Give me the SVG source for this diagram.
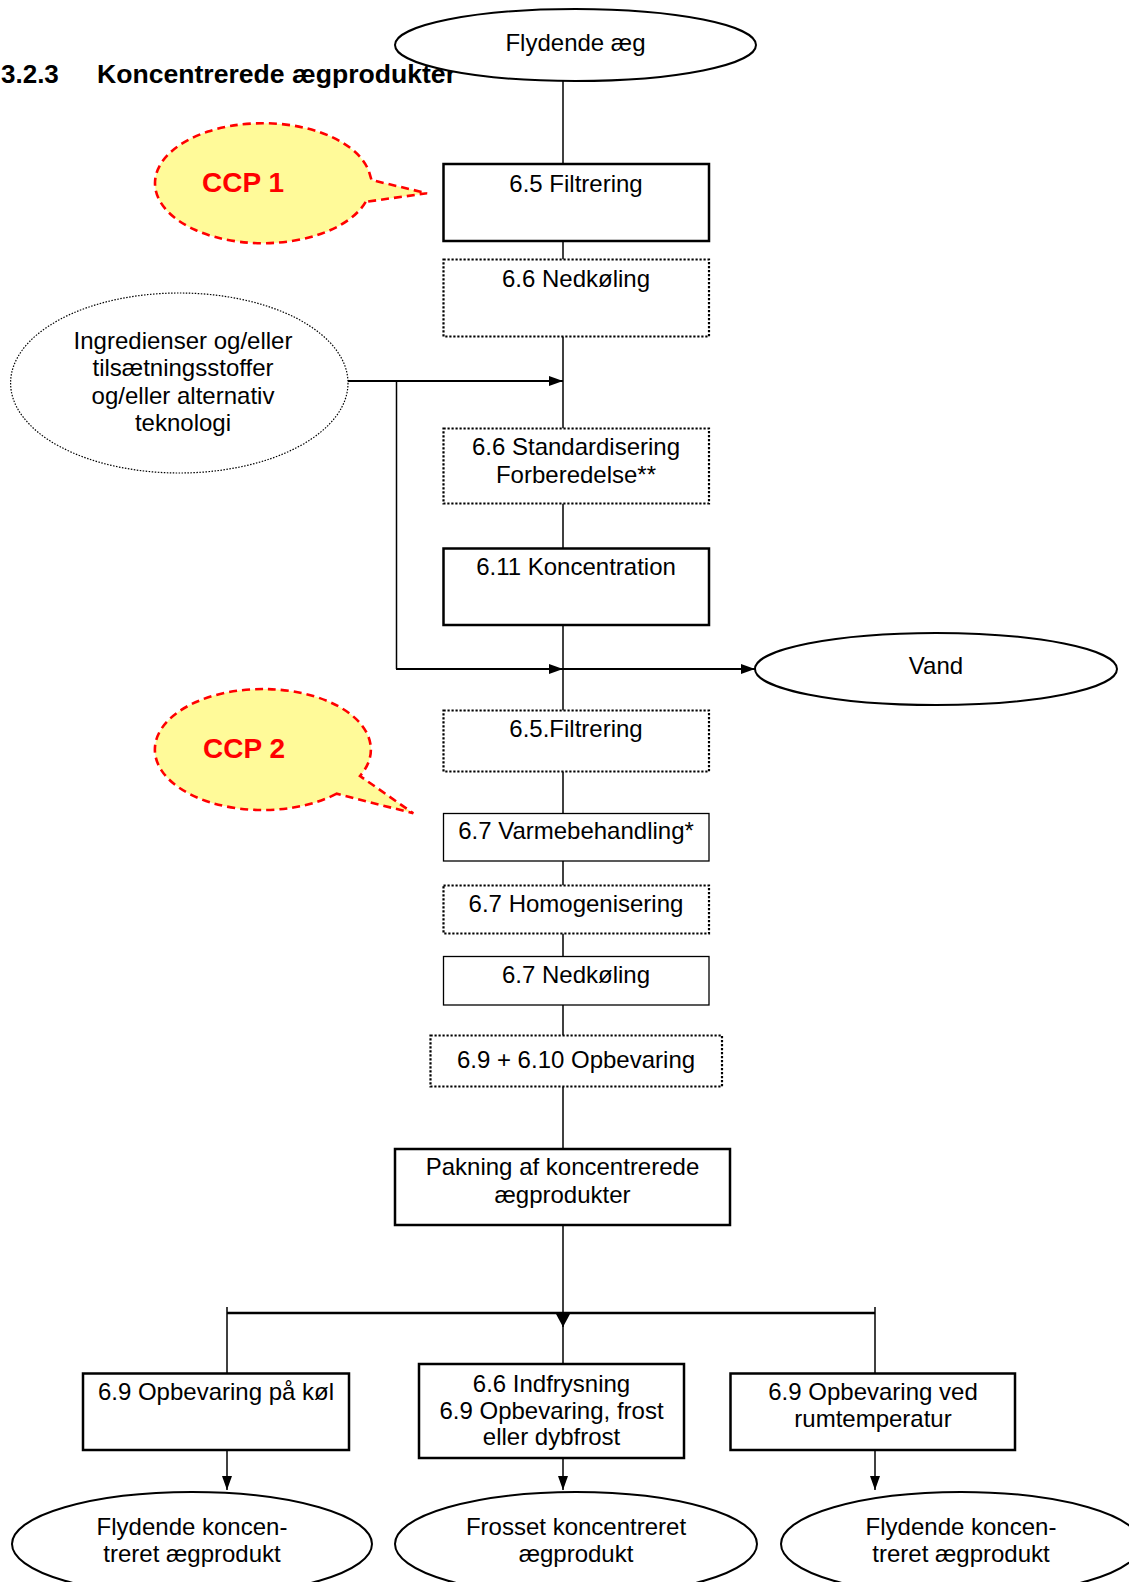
<svg xmlns="http://www.w3.org/2000/svg" width="1129" height="1582" viewBox="0 0 1129 1582">
  <style>
    text { font-family: "Liberation Sans", Arial, sans-serif; font-size: 24px; fill: #000; }
    .c { text-anchor: middle; }
    .title { font-weight: bold; font-size: 26px; }
    .ccp { font-weight: bold; font-size: 28px; fill: #FF0000; text-anchor: middle; }
    .thick { fill: #fff; stroke: #000; stroke-width: 2.5; }
    .thin { fill: #fff; stroke: #000; stroke-width: 1.3; }
    .dot { fill: #fff; stroke: #000; stroke-width: 2.2; stroke-dasharray: 2.2 1.8; }
    .term { fill: #fff; stroke: #000; stroke-width: 2; }
    .dotell { fill: #fff; stroke: #000; stroke-width: 1.2; stroke-dasharray: 1.5 1.5; }
    .callout { fill: #FFFA99; stroke: #FF0000; stroke-width: 2.6; stroke-dasharray: 8 5; }
    .ln { fill: none; stroke: #000; stroke-width: 1.5; }
    .ln2 { fill: none; stroke: #000; stroke-width: 2; }
    .bar { fill: none; stroke: #000; stroke-width: 2.5; }
  </style>
  <defs>
    <marker id="arr" markerUnits="userSpaceOnUse" markerWidth="14" markerHeight="10" refX="14" refY="5" orient="auto">
      <path d="M0,0 L14,5 L0,10 Z" fill="#000"/>
    </marker>
    <marker id="arrWide" markerUnits="userSpaceOnUse" markerWidth="13" markerHeight="14" refX="13" refY="7" orient="auto">
      <path d="M0,0 L13,7 L0,14 Z" fill="#000"/>
    </marker>
  </defs>

  <!-- heading (the start ellipse is drawn over its end) -->
  <g id="heading">
    <text class="title" x="1" y="83">3.2.3</text>
    <text class="title" x="97" y="83" textLength="359" lengthAdjust="spacingAndGlyphs">Koncentrerede ægprodukter</text>
  </g>

  <!-- connectors -->
  <g id="connectors">
    <path class="ln" d="M563,81 V164"/>
    <path class="ln" d="M563,241 V259.5"/>
    <path class="ln" d="M563,336.5 V428.5"/>
    <path class="ln" d="M563,503.5 V548.5"/>
    <path class="ln" d="M563,625 V710.5"/>
    <path class="ln" d="M563,771.5 V813.5"/>
    <path class="ln" d="M563,861 V885.5"/>
    <path class="ln" d="M563,933.5 V956.5"/>
    <path class="ln" d="M563,1005 V1035.5"/>
    <path class="ln" d="M563,1086.5 V1149"/>
    <!-- inputs joining the main flow -->
    <path class="ln2" d="M348,381 H563" marker-end="url(#arr)"/>
    <path class="ln" d="M396.5,381 V669"/>
    <path class="ln2" d="M396,669 H563" marker-end="url(#arr)"/>
    <!-- water removed after concentration -->
    <path class="ln2" d="M563,669 H755" marker-end="url(#arr)"/>
    <!-- split to the three storage routes -->
    <path class="ln" d="M563,1225 V1327" marker-end="url(#arrWide)"/>
    <path class="ln" d="M563,1320 V1364"/>
    <path class="bar" d="M227,1313 H875"/>
    <path class="ln" d="M227,1307 V1373"/>
    <path class="ln" d="M875,1307 V1373"/>
    <path class="ln" d="M227,1450 V1490" marker-end="url(#arr)"/>
    <path class="ln" d="M563,1458 V1490" marker-end="url(#arr)"/>
    <path class="ln" d="M875,1450 V1490" marker-end="url(#arr)"/>
  </g>

  <g id="start">
    <ellipse class="term" cx="575.5" cy="45" rx="180.5" ry="36"/>
    <text class="c" x="575.5" y="50.5">Flydende æg</text>
  </g>

  <g id="ccp1">
    <path class="callout" d="M365.7,201.8 A108,60 0 1 1 369.4,172.9 L371.5,180 L427,193.3 Z"/>
    <text class="ccp" x="243" y="191.7">CCP 1</text>
  </g>

  <g id="filtrering1">
    <rect class="thick" x="443.5" y="164" width="265.5" height="77"/>
    <text class="c" x="576" y="191.5">6.5 Filtrering</text>
  </g>

  <g id="nedkoeling1">
    <rect class="dot" x="443.5" y="259.5" width="265.5" height="77"/>
    <text class="c" x="576" y="286.5">6.6 Nedkøling</text>
  </g>

  <g id="ingredienser">
    <ellipse class="dotell" cx="179.3" cy="383" rx="168.7" ry="90"/>
    <text class="c" x="183" y="348.5">Ingredienser og/eller</text>
    <text class="c" x="183" y="376">tilsætningsstoffer</text>
    <text class="c" x="183" y="403.5">og/eller alternativ</text>
    <text class="c" x="183" y="431">teknologi</text>
  </g>

  <g id="standardisering">
    <rect class="dot" x="443.5" y="428.5" width="265.5" height="75"/>
    <text class="c" x="576" y="455">6.6 Standardisering</text>
    <text class="c" x="576" y="482.5">Forberedelse**</text>
  </g>

  <g id="koncentration">
    <rect class="thick" x="443.5" y="548.5" width="265.5" height="76.5"/>
    <text class="c" x="576" y="575">6.11 Koncentration</text>
  </g>

  <g id="vand">
    <ellipse class="term" cx="936" cy="669" rx="181" ry="36"/>
    <text class="c" x="936" y="673.5">Vand</text>
  </g>

  <g id="ccp2">
    <path class="callout" d="M336.7,793.7 A108,60.5 0 1 1 360,776 L413.3,813.3 Z"/>
    <text class="ccp" x="244" y="758.3">CCP 2</text>
  </g>

  <g id="filtrering2">
    <rect class="dot" x="443.5" y="710.5" width="265.5" height="61"/>
    <text class="c" x="576" y="737">6.5.Filtrering</text>
  </g>

  <g id="varmebehandling">
    <rect class="thin" x="443.5" y="813.5" width="265.5" height="47.5"/>
    <text class="c" x="576" y="838.5">6.7 Varmebehandling*</text>
  </g>

  <g id="homogenisering">
    <rect class="dot" x="443.5" y="885.5" width="265.5" height="48"/>
    <text class="c" x="576" y="912">6.7 Homogenisering</text>
  </g>

  <g id="nedkoeling2">
    <rect class="thin" x="443.5" y="956.5" width="265.5" height="48.5"/>
    <text class="c" x="576" y="983">6.7 Nedkøling</text>
  </g>

  <g id="opbevaring">
    <rect class="dot" x="430.5" y="1035.5" width="291.5" height="51"/>
    <text class="c" x="576" y="1068">6.9 + 6.10 Opbevaring</text>
  </g>

  <g id="pakning">
    <rect class="thick" x="395" y="1149" width="335" height="76"/>
    <text class="c" x="562.5" y="1175">Pakning af koncentrerede</text>
    <text class="c" x="562.5" y="1203">ægprodukter</text>
  </g>

  <g id="koel">
    <rect class="thick" x="83" y="1373.5" width="266" height="76.5"/>
    <text class="c" x="216" y="1399.5">6.9 Opbevaring på køl</text>
  </g>

  <g id="frost">
    <rect class="thick" x="419" y="1364" width="265" height="94"/>
    <text class="c" x="551.5" y="1391.5">6.6 Indfrysning</text>
    <text class="c" x="551.5" y="1418.5">6.9 Opbevaring, frost</text>
    <text class="c" x="551.5" y="1444.5">eller dybfrost</text>
  </g>

  <g id="rumtemperatur">
    <rect class="thick" x="730.5" y="1373.5" width="284.5" height="76.5"/>
    <text class="c" x="873" y="1399.5">6.9 Opbevaring ved</text>
    <text class="c" x="873" y="1426.5">rumtemperatur</text>
  </g>

  <g id="produkt-koel">
    <ellipse class="term" cx="192" cy="1544" rx="180" ry="52"/>
    <text class="c" x="192" y="1535">Flydende koncen-</text>
    <text class="c" x="192" y="1562">treret ægprodukt</text>
  </g>

  <g id="produkt-frost">
    <ellipse class="term" cx="576" cy="1544" rx="181" ry="52"/>
    <text class="c" x="576" y="1535">Frosset koncentreret</text>
    <text class="c" x="576" y="1562">ægprodukt</text>
  </g>

  <g id="produkt-rum">
    <ellipse class="term" cx="961" cy="1544" rx="180" ry="52"/>
    <text class="c" x="961" y="1535">Flydende koncen-</text>
    <text class="c" x="961" y="1562">treret ægprodukt</text>
  </g>
</svg>
